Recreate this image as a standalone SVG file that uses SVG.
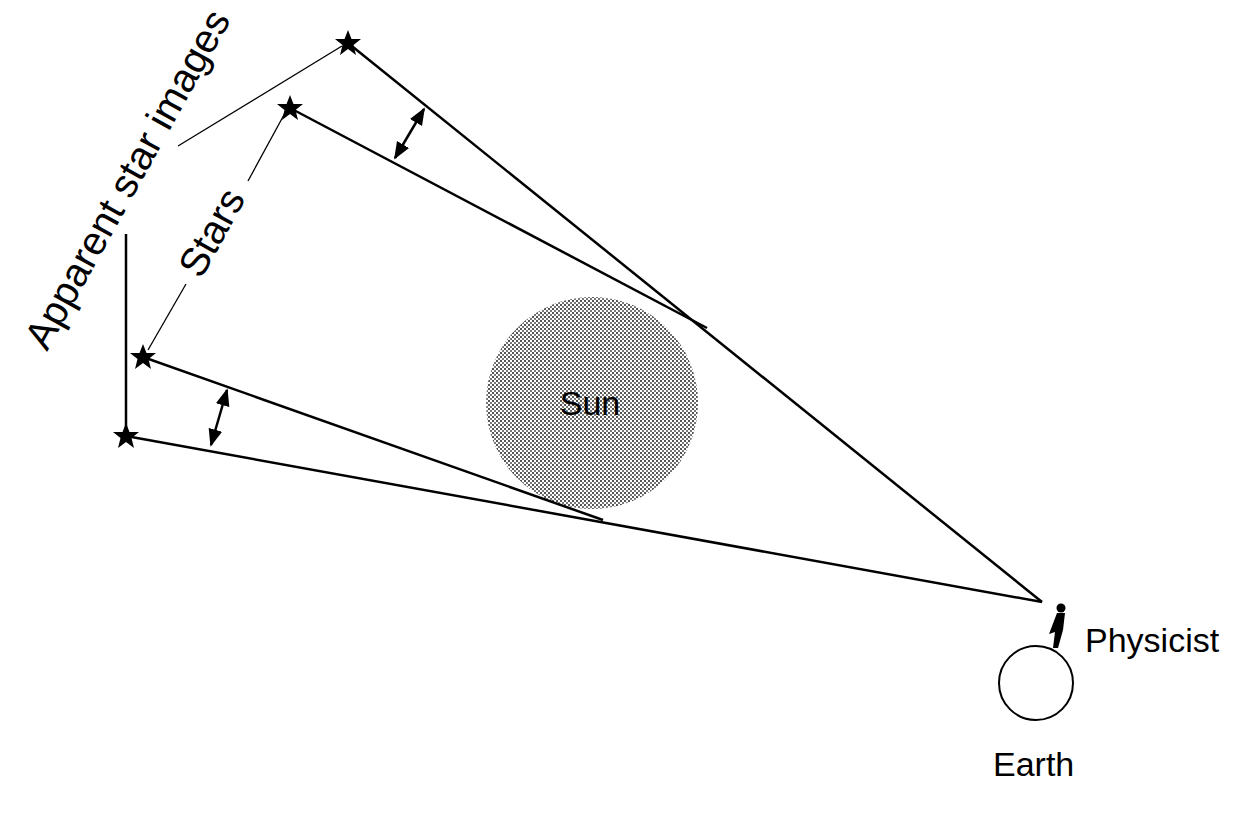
<svg xmlns="http://www.w3.org/2000/svg" width="1247" height="816" viewBox="0 0 1247 816">
<style>
.l{stroke:#000;stroke-width:2.5;fill:none}
.t{stroke:#000;stroke-width:1.3;fill:none}
.tx{font-family:"Liberation Sans",Arial,sans-serif;font-size:34px;fill:#000}
.rt{font-size:40px}
</style>
<defs>
<pattern id="dots" width="4" height="4" patternUnits="userSpaceOnUse"><rect width="4" height="4" fill="#fff"/><rect width="2" height="2" fill="#555"/><rect x="2" y="2" width="2" height="2" fill="#777"/></pattern>
<marker id="ah" viewBox="0 0 10 10" refX="9" refY="5" markerWidth="7" markerHeight="7" orient="auto-start-reverse"><path d="M0,1 L10,5 L0,9 Z" fill="#000"/></marker>
<path id="star" d="M0,-13 L3.5,-4 L13,-4 L5.5,2 L8,12 L0,6 L-8,12 L-5.5,2 L-13,-4 L-3.5,-4 Z" fill="#000"/>
</defs>
<rect width="1247" height="816" fill="#fff"/>
<g id="sun"><circle cx="592" cy="403" r="106" fill="url(#dots)"/><text class="tx" x="590" y="415" text-anchor="middle" font-size="38" fill="#222">Sun</text></g>
<g id="connectors">
<path class="l" d="M348,43 L1042,602"/>
<path class="l" d="M290,108 L707,328"/>
<path class="l" d="M143,357 L603,520"/>
<path class="l" d="M126,436 L1042,602"/>
<path class="l" d="M126,234 L126,430"/>
<path class="t" d="M178,146 L342,46"/>
<path class="t" d="M248,181 L285,113"/>
<path class="t" d="M186,284 L148,350"/>
<path class="l" d="M424,109 L395,158" marker-start="url(#ah)" marker-end="url(#ah)"/>
<path class="l" d="M227,390 L211,445" marker-start="url(#ah)" marker-end="url(#ah)"/>
</g>
<g id="stars">
<use href="#star" x="348" y="43"/><use href="#star" x="290" y="108"/><use href="#star" x="143" y="357"/><use href="#star" x="126" y="436"/>
</g>
<g id="earth"><circle cx="1036" cy="683" r="37" fill="#fff" stroke="#000" stroke-width="2"/><text class="tx" x="993" y="776">Earth</text></g>
<g id="physicist">
<circle cx="1061" cy="608" r="4.5" fill="#000"/>
<path d="M1057,613 L1065,613 L1063,630 L1058,648 L1053,648 L1055,632 L1049,634 Z" fill="#000"/>
<text class="tx" x="1085" y="652">Physicist</text>
</g>
<g id="labels">
<text class="tx rt" transform="translate(47,352) rotate(-61)">Apparent star images</text>
<text class="tx rt" transform="translate(201,280) rotate(-61)">Stars</text>
</g>
</svg>
